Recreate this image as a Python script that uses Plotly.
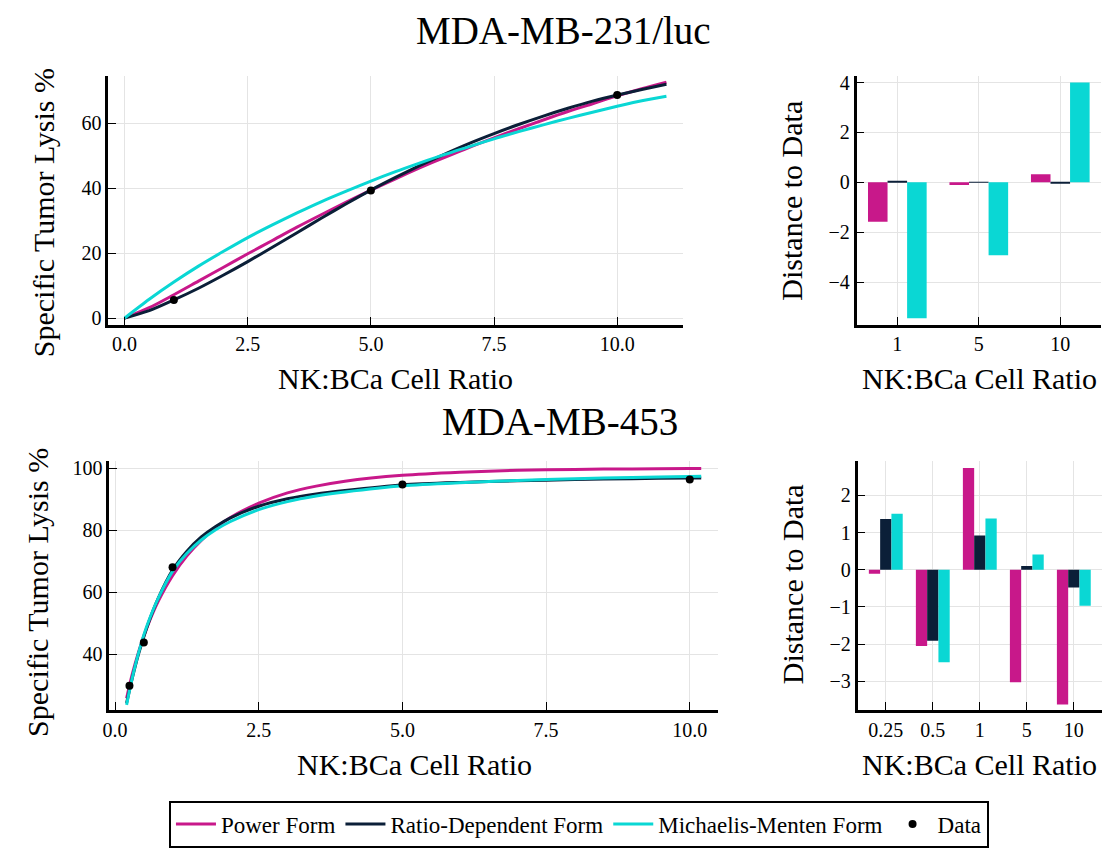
import plotly.graph_objects as go

W, H = 1106, 848

# ---------------- data: MDA-MB-231/luc ----------------
x_a = [0, 0.5, 1, 1.5, 2, 2.5, 3, 3.5, 4, 4.5, 5, 5.5, 6, 6.5, 7, 7.5, 8, 8.5, 9, 9.5, 10, 10.5, 11]
power_a = [0, 3.2, 7.2, 11.4, 15.6, 19.8, 23.9, 28.0, 31.9, 35.7, 39.4, 42.9, 46.3, 49.5, 52.6, 55.5, 58.3, 61.0, 63.6, 66.0, 68.4, 70.6, 72.6]
ratio_a = [0, 2.3, 5.6, 9.2, 13.2, 17.4, 21.8, 26.3, 30.8, 35.2, 39.4, 43.3, 47.0, 50.5, 53.8, 56.8, 59.6, 62.2, 64.6, 66.8, 68.7, 70.4, 72.0]
mm_a = [0, 5.8, 11.1, 16.0, 20.5, 24.8, 28.7, 32.4, 35.9, 39.1, 42.2, 45.1, 47.8, 50.4, 52.8, 55.2, 57.4, 59.5, 61.5, 63.4, 65.2, 66.9, 68.3]
data_x_a = [1, 5, 10]
data_y_a = [5.6, 39.3, 68.7]
cats_a = ["1", "5", "10"]
dist_power_a = [-1.58, -0.11, 0.32]
dist_ratio_a = [0.03, 0.02, -0.02]
dist_mm_a = [-5.45, -2.92, 4.0]

# ---------------- data: MDA-MB-453 ----------------
x_b = [0.2, 0.25, 0.3, 0.4, 0.5, 0.6, 0.75, 1, 1.25, 1.5, 1.75, 2, 2.5, 3, 3.5, 4, 5, 6, 7, 8, 9, 10, 10.2]
power_b = [25.7, 29.8, 33.6, 40.1, 45.8, 50.7, 57.0, 65.3, 71.7, 76.7, 80.7, 84.0, 88.7, 92.0, 94.2, 95.8, 97.7, 98.7, 99.3, 99.6, 99.75, 99.85, 99.86]
ratio_b = [24.2, 28.3, 32.3, 39.5, 45.6, 51.1, 58.0, 67.1, 73.2, 77.8, 81.2, 83.9, 87.7, 90.1, 91.7, 92.8, 94.6, 95.4, 95.9, 96.3, 96.6, 96.8, 96.8]
mm_b = [23.6, 28.2, 32.4, 39.8, 46.2, 51.4, 58.0, 66.7, 72.5, 76.8, 80.1, 82.7, 86.6, 89.2, 91.0, 92.3, 94.3, 95.3, 96.0, 96.6, 97.0, 97.3, 97.4]
data_x_b = [0.25, 0.5, 1, 5, 10]
data_y_b = [29.8, 43.7, 68.0, 94.7, 96.3]
cats_b = ["0.25", "0.5", "1", "5", "10"]
dist_power_b = [-0.11, -2.05, 2.74, -3.03, -3.63]
dist_ratio_b = [1.37, -1.91, 0.92, 0.10, -0.48]
dist_mm_b = [1.51, -2.49, 1.38, 0.41, -0.97]

names = ["Power Form", "Ratio-Dependent Form", "Michaelis-Menten Form"]
colors = ["#C8188A", "#0B1F38", "#0AD7D4"]
FONT = "Liberation Serif"

fig = go.Figure()

def px(x):
    return x / W

def py(y):
    return 1 - y / H

# line panels
for (xs, series, dx, dy, xa, ya, show) in [
    (x_a, [power_a, ratio_a, mm_a], data_x_a, data_y_a, "x", "y", True),
    (x_b, [power_b, ratio_b, mm_b], data_x_b, data_y_b, "x3", "y3", False),
]:
    for s, n, c in zip(series, names, colors):
        fig.add_trace(go.Scatter(x=xs, y=s, mode="lines", name=n,
                                 line=dict(color=c, width=3, shape="spline", smoothing=0.8),
                                 xaxis=xa, yaxis=ya, showlegend=show))
    fig.add_trace(go.Scatter(x=dx, y=dy, mode="markers", name="Data",
                             marker=dict(color="black", size=8),
                             xaxis=xa, yaxis=ya, showlegend=show))

# bar panels
for (cats, vals, xa, ya) in [
    (cats_a, [dist_power_a, dist_ratio_a, dist_mm_a], "x2", "y2"),
    (cats_b, [dist_power_b, dist_ratio_b, dist_mm_b], "x4", "y4"),
]:
    for v, n, c in zip(vals, names, colors):
        fig.add_trace(go.Bar(x=cats, y=v, name=n, marker=dict(color=c, line=dict(width=0)),
                             xaxis=xa, yaxis=ya, showlegend=False))

axis_common = dict(
    showline=True, linecolor="black", linewidth=2.5, mirror=False,
    showgrid=True, gridcolor="#e4e4e4", gridwidth=1,
    zeroline=False, ticks="inside", ticklen=8, tickwidth=1.2, tickcolor="black",
    tickfont=dict(family=FONT, size=20, color="black"),
)

fig.update_layout(
    width=W, height=H,
    margin=dict(l=0, r=0, t=0, b=0),
    paper_bgcolor="white", plot_bgcolor="white",
    barmode="group", bargap=0.28, bargroupgap=0,
    font=dict(family=FONT, color="black"),
    xaxis=dict(domain=[px(102), px(680)], range=[-0.33, 11.33], tickvals=[0, 2.5, 5, 7.5, 10],
               ticktext=["0.0", "2.5", "5.0", "7.5", "10.0"], anchor="y", **axis_common),
    yaxis=dict(domain=[py(326), py(73)], range=[-2.0, 74.6], tickvals=[0, 20, 40, 60],
               anchor="x", **axis_common),
    xaxis2=dict(domain=[px(855), px(1101)], range=[-0.5, 2.5], type="category",
                anchor="y2", **axis_common),
    yaxis2=dict(domain=[py(326), py(73)], range=[-5.7, 4.27], tickvals=[-4, -2, 0, 2, 4],
                anchor="x2", **axis_common),
    xaxis3=dict(domain=[px(103), px(716)], range=[-0.1, 10.5], tickvals=[0, 2.5, 5, 7.5, 10],
                ticktext=["0.0", "2.5", "5.0", "7.5", "10.0"], anchor="y3", **axis_common),
    yaxis3=dict(domain=[py(718), py(465)], range=[21.9, 102.2], tickvals=[40, 60, 80, 100],
                anchor="x3", **axis_common),
    xaxis4=dict(domain=[px(856), px(1102)], range=[-0.6, 4.6], type="category",
                anchor="y4", **axis_common),
    yaxis4=dict(domain=[py(718), py(465)], range=[-3.78, 2.92], tickvals=[-3, -2, -1, 0, 1, 2],
                anchor="x4", **axis_common),
    legend=dict(orientation="h", x=px(163), xanchor="left", y=py(810), yanchor="top",
                bordercolor="black", borderwidth=2, bgcolor="white",
                font=dict(family=FONT, size=23, color="black"),
                itemwidth=40, tracegroupgap=0),
    showlegend=True,
)

def ann(text, x, y, size, angle=0):
    fig.add_annotation(text=text, x=px(x), y=py(y), xref="paper", yref="paper",
                       showarrow=False, textangle=angle, xanchor="center", yanchor="middle",
                       font=dict(family=FONT, size=size, color="black"))

ann("MDA-MB-231/luc", 560, 27, 39)
ann("MDA-MB-453", 557, 425, 39)
ann("Specific Tumor Lysis %", 37, 212, 30, -90)
ann("Specific Tumor Lysis %", 30, 598, 30, -90)
ann("Distance to Data", 790, 200, 30, -90)
ann("Distance to Data", 790, 590, 30, -90)
ann("NK:BCa Cell Ratio", 391, 381, 30)
ann("NK:BCa Cell Ratio", 979, 381, 30)
ann("NK:BCa Cell Ratio", 410, 773, 30)
ann("NK:BCa Cell Ratio", 979, 773, 30)

fig.write_html("out.html")
